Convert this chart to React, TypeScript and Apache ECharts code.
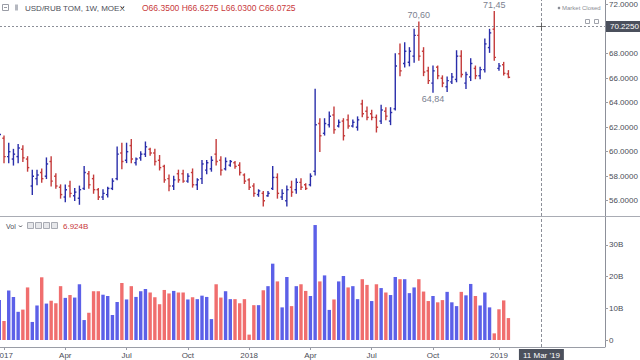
import React, { useEffect, useRef } from 'react';
import * as echarts from 'echarts';

// Weekly bars, first week starts 2016-12-26: [open, high, low, close]
const ohlc: number[][] = [
  [60.9, 61.7, 60.6, 61.4], [61.1, 61.3, 59.1, 59.6], [59.6, 60.7, 59.1, 60.0], [59.4, 60.2, 58.9, 59.8],
  [59.6, 60.6, 59.1, 60.3], [60.2, 60.5, 59.2, 59.5], [59.4, 59.6, 58.4, 58.7], [57.2, 58.5, 56.5, 58.0],
  [57.8, 58.5, 57.3, 58.1], [58.3, 58.6, 57.5, 57.8], [58.0, 59.5, 57.8, 59.0], [59.2, 59.6, 57.2, 57.6],
  [58.0, 58.2, 57.0, 57.2], [57.1, 57.3, 56.2, 56.5], [56.3, 57.3, 55.9, 56.9], [57.2, 57.6, 56.3, 56.6],
  [56.4, 57.0, 56.0, 56.7], [56.2, 57.2, 55.7, 56.9], [57.0, 58.8, 56.9, 58.3], [58.2, 58.4, 57.0, 57.3],
  [57.8, 58.1, 56.6, 56.9], [56.9, 57.0, 56.1, 56.3], [56.3, 56.9, 56.1, 56.6], [56.5, 57.1, 56.3, 57.0],
  [57.0, 57.8, 56.9, 57.6], [57.8, 60.4, 57.7, 59.8], [59.9, 60.7, 58.6, 59.2], [59.3, 60.7, 59.1, 60.0],
  [60.5, 61.0, 59.1, 59.4], [59.1, 59.5, 58.9, 59.4], [59.5, 60.0, 59.3, 59.8], [59.8, 60.8, 59.6, 60.4],
  [60.2, 60.3, 59.7, 59.9], [59.9, 60.2, 58.9, 59.2], [59.3, 59.7, 58.5, 58.7], [58.8, 58.9, 57.5, 57.7],
  [57.8, 58.1, 56.8, 57.2], [57.2, 58.0, 56.9, 57.7], [58.2, 58.5, 57.5, 57.7], [58.2, 58.5, 57.5, 57.6],
  [57.6, 58.2, 57.5, 58.0], [58.3, 58.6, 57.1, 57.3], [57.3, 57.8, 56.9, 57.7], [57.8, 59.3, 57.4, 59.0],
  [58.5, 59.3, 58.2, 59.1], [58.6, 59.6, 58.4, 59.3], [59.8, 61.0, 58.9, 59.2], [59.3, 59.6, 58.1, 58.5],
  [58.6, 59.5, 58.5, 59.2], [58.9, 59.3, 58.8, 59.2], [59.1, 59.2, 58.65, 58.8], [58.9, 59.1, 58.1, 58.3],
  [58.1, 58.2, 57.4, 57.6], [57.7, 57.8, 56.9, 57.1], [57.2, 57.4, 56.35, 56.6], [56.5, 56.9, 56.35, 56.8],
  [56.6, 56.75, 55.55, 56.0], [56.4, 56.75, 56.35, 56.6], [57.0, 58.8, 56.9, 57.9], [57.9, 58.2, 56.2, 56.6],
  [56.3, 56.9, 56.1, 56.6], [56.0, 57.2, 55.55, 56.9], [57.1, 57.6, 56.35, 56.7], [56.9, 57.8, 56.6, 57.5],
  [57.5, 57.8, 56.9, 57.1], [57.3, 57.4, 56.9, 57.0], [57.3, 58.2, 57.2, 58.0], [58.4, 65.1, 58.1, 62.2],
  [62.3, 62.7, 60.0, 61.3], [61.5, 62.7, 61.35, 62.3], [62.2, 63.25, 62.0, 62.9], [63.0, 63.65, 61.5, 61.8],
  [62.1, 62.6, 62.0, 62.4], [62.5, 62.7, 60.95, 61.3], [62.6, 63.0, 61.9, 62.1], [62.1, 62.6, 62.0, 62.4],
  [62.0, 62.85, 61.75, 62.6], [63.9, 64.2, 62.85, 63.1], [63.3, 63.65, 62.6, 62.8], [63.1, 63.4, 62.6, 62.8],
  [62.8, 63.0, 61.6, 62.0], [62.5, 63.8, 62.3, 63.4], [63.3, 63.6, 62.6, 62.9], [62.5, 63.6, 62.2, 63.2],
  [63.5, 68.0, 63.4, 67.0], [68.0, 68.8, 66.2, 66.6], [67.2, 68.9, 66.9, 68.2], [67.3, 68.5, 67.0, 68.2],
  [67.8, 70.0, 67.3, 69.5], [69.5, 70.6, 67.45, 67.8], [68.2, 68.5, 66.2, 66.5], [66.6, 66.9, 65.55, 65.8],
  [65.6, 67.0, 64.84, 66.6], [66.9, 67.0, 65.95, 66.2], [66.0, 66.2, 65.3, 65.6], [65.3, 66.1, 64.9, 65.8],
  [65.7, 66.4, 65.55, 66.1], [65.9, 68.25, 65.7, 67.8], [67.8, 68.25, 66.1, 66.3], [65.6, 66.5, 65.15, 66.3],
  [66.1, 67.6, 65.8, 67.2], [66.8, 67.0, 65.95, 66.2], [66.2, 66.9, 65.95, 66.7], [66.7, 69.2, 66.5, 68.8],
  [68.5, 70.0, 68.1, 69.7], [70.0, 71.45, 67.45, 67.7], [66.8, 67.2, 66.65, 67.0], [67.1, 67.3, 66.25, 66.4],
  [66.35, 66.6275, 66.03, 66.0725],
];

// Weekly volume, billions
const volumes: number[] = [
  12.6, 6.0, 15.6, 13.6, 8.9, 9.6, 16.6, 5.7, 10.9, 19.8, 11.5, 12.4, 11.6, 17.0, 13.3, 14.2,
  13.4, 17.6, 6.3, 8.6, 15.4, 15.4, 14.3, 13.9, 7.9, 12.0, 18.0, 12.8, 17.0, 13.6, 15.4, 16.1,
  15.0, 13.5, 11.3, 15.8, 14.7, 15.5, 15.0, 15.0, 12.8, 13.5, 12.9, 14.0, 13.6, 6.6, 17.6, 13.4,
  15.4, 12.9, 12.9, 11.6, 12.9, 1.7, 11.0, 11.0, 15.7, 17.0, 24.1, 18.5, 10.3, 19.9, 10.7, 17.0,
  17.6, 15.5, 13.9, 36.3, 18.5, 20.4, 9.5, 12.8, 18.5, 20.2, 16.6, 17.0, 12.9, 19.2, 17.4, 12.3,
  17.6, 16.4, 15.0, 14.2, 19.9, 19.2, 19.2, 14.8, 16.6, 19.2, 15.3, 12.3, 13.9, 11.9, 12.6, 15.2,
  11.9, 10.7, 15.2, 14.1, 17.7, 13.9, 10.9, 15.0, 10.3, 2.1, 9.7, 12.5, 6.924,
];

// Volume bar colour: 1 = up (blue), 0 = down (red)
const volUp: number[] = [
  1, 0, 1, 1, 1, 0, 0, 1, 1, 0, 1, 0, 0, 0, 1, 0, 1, 1, 1, 0, 0, 0, 1, 1, 1, 1, 0, 1, 0, 1, 1, 1,
  0, 0, 0, 0, 0, 1, 0, 0, 1, 0, 1, 1, 1, 1, 0, 0, 1, 1, 0, 0, 0, 0, 0, 1, 0, 1, 1, 0, 1, 1, 0, 1,
  0, 0, 1, 1, 0, 1, 1, 0, 1, 1, 0, 1, 1, 0, 0, 1, 0, 1, 0, 1, 1, 0, 1, 1, 1, 0, 0, 0, 1, 0, 0, 1,
  1, 1, 0, 1, 1, 0, 1, 1, 1, 0, 0, 0, 0,
];

const priceTicks = [56, 58, 60, 62, 64, 66, 68, 72]; // 70 sits under the crosshair price box
const volTicks = [0, 10, 20, 30];
const timeTickIdx = [1, 14, 27, 40, 53, 66, 79, 92, 106];
const timeTickLabels = ['2017', 'Apr', 'Jul', 'Oct', '2018', 'Apr', 'Jul', 'Oct', '2019'];
const hiLoMarks = [
  { idx: 89, value: 70.6, pos: 'top' },
  { idx: 92, value: 64.84, pos: 'bottom' },
  { idx: 105, value: 71.45, pos: 'top' },
];
const cursorIdx = 115;
const cursorDate = "11 Mar '19";
const cursorPrice = 70.225;
const title = 'USD/RUB TOM, 1W, MOEX';

const BAR_BLUE = '#2a2eaa';
const BAR_RED = '#c43b3b';
const VOL_BLUE = '#5c60e8';
const VOL_RED = '#f06e6e';
const TXT = '#4a4d57';
const FONT = '"Liberation Sans", Arial, sans-serif';

export default function App() {
  const ref = useRef<HTMLDivElement>(null);
  useEffect(() => {
    const chart = echarts.init(ref.current!, undefined, { renderer: 'svg' });
    const last = ohlc[ohlc.length - 1];
    const lastVol = volumes[volumes.length - 1];
    const xMin = 0.15;
    const xMax = 128.49;
    const pxPer = 12.25;
    const pMax = 72 + 4.7 / pxPer;
    const pMin = 72 - 211.3 / pxPer;
    const vPer = 3.167;
    const vMax = 123 / vPer;
    const vMin = -7 / vPer;

    const ohlcData = ohlc.map((d, i) => [i, d[0], d[1], d[2], d[3]]);
    const volData = volumes.map((v, i) => ({
      value: [i, v],
      itemStyle: { color: volUp[i] ? VOL_BLUE : VOL_RED },
    }));

    const dash = { color: '#8c8f98', width: 1, type: [3, 2] as any };

    const option: any = {
      animation: false,
      backgroundColor: '#ffffff',
      textStyle: { fontFamily: FONT },
      grid: [
        { left: 0, top: 0, width: 605, height: 216, outerBoundsMode: 'none', containLabel: false },
        { left: 0, top: 217, width: 605, height: 130, outerBoundsMode: 'none', containLabel: false },
      ],
      xAxis: [
        {
          type: 'value', gridIndex: 0, min: xMin, max: xMax,
          axisLine: { show: false }, axisTick: { show: false }, axisLabel: { show: false }, splitLine: { show: false },
        },
        {
          type: 'value', gridIndex: 1, min: xMin, max: xMax,
          axisLine: { show: true, onZero: false, lineStyle: { color: '#9a9da6', width: 1 } },
          axisTick: { show: true, customValues: timeTickIdx, length: 3, lineStyle: { color: '#9a9da6' } },
          axisLabel: {
            show: true, customValues: timeTickIdx, margin: 4, fontSize: 8, color: TXT, fontFamily: FONT,
            alignMinLabel: 'center', alignMaxLabel: 'center', hideOverlap: false,
            formatter: (v: number) => {
              const k = timeTickIdx.indexOf(Math.round(v));
              return k >= 0 ? timeTickLabels[k] : '';
            },
          },
          splitLine: { show: false },
        },
      ],
      yAxis: [
        {
          type: 'value', gridIndex: 0, position: 'right', min: pMin, max: pMax,
          axisLine: { show: false },
          axisTick: { show: true, customValues: priceTicks, length: 3, lineStyle: { color: '#9a9da6' } },
          axisLabel: {
            customValues: priceTicks, margin: 4, fontSize: 8, color: TXT, fontFamily: FONT,
            formatter: (v: number) => v.toFixed(4),
          },
          splitLine: { show: false },
        },
        {
          type: 'value', gridIndex: 1, position: 'right', min: vMin, max: vMax,
          axisLine: { show: false },
          axisTick: { show: true, customValues: volTicks, length: 3, lineStyle: { color: '#9a9da6' } },
          axisLabel: {
            customValues: volTicks, margin: 4, fontSize: 8, color: TXT, fontFamily: FONT,
            formatter: (v: number) => (v === 0 ? '0' : v + 'B'),
          },
          splitLine: { show: false },
        },
      ],
      series: [
        {
          type: 'custom',
          xAxisIndex: 0, yAxisIndex: 0,
          data: ohlcData,
          encode: { x: 0, y: [1, 2, 3, 4] },
          clip: true,
          renderItem: (params: any, api: any) => {
            const x = api.value(0);
            const o = api.coord([x, api.value(1)]);
            const h = api.coord([x, api.value(2)]);
            const l = api.coord([x, api.value(3)]);
            const c = api.coord([x, api.value(4)]);
            const up = api.value(4) >= api.value(1);
            const style = { stroke: up ? BAR_BLUE : BAR_RED, lineWidth: 1.4 };
            const t = 1.7;
            return {
              type: 'group',
              children: [
                { type: 'line', shape: { x1: h[0], y1: h[1] - 0.4, x2: l[0], y2: l[1] + 0.4 }, style },
                { type: 'line', shape: { x1: o[0] - t, y1: o[1], x2: o[0], y2: o[1] }, style },
                { type: 'line', shape: { x1: c[0], y1: c[1], x2: c[0] + t, y2: c[1] }, style },
              ],
            };
          },
          markLine: {
            silent: true, symbol: ['none', 'none'], animation: false,
            data: [
              {
                yAxis: cursorPrice, lineStyle: { ...dash, type: [2, 2] },
                label: {
                  show: true, position: 'end', distance: 1, formatter: cursorPrice.toFixed(4),
                  backgroundColor: '#4b505c', color: '#ffffff', fontSize: 8, padding: [2, 4, 1, 4], fontFamily: FONT,
                },
              },
              { xAxis: cursorIdx, lineStyle: dash, label: { show: false } },
              {
                yAxis: last[3], lineStyle: { opacity: 0 },
                label: {
                  show: true, position: 'end', distance: 1, formatter: last[3].toFixed(4),
                  backgroundColor: '#f02a2a', color: '#ffffff', fontSize: 8, padding: [2, 4, 1, 4], fontFamily: FONT,
                },
              },
            ],
          },
          markPoint: {
            silent: true, animation: false,
            data: [
              ...hiLoMarks.map((m) => ({
                coord: [m.idx, m.value], value: m.value, symbol: 'circle', symbolSize: 0,
                label: {
                  show: true, position: m.pos, distance: 2, color: '#7b8190', fontSize: 9, fontFamily: FONT,
                  formatter: m.value.toFixed(2).replace('.', ','),
                },
              })),
              {
                coord: [cursorIdx, cursorPrice], symbol: 'path://M0 4.5h10v1h-10z M4.5 0h1v10h-1z', symbolSize: 8,
                itemStyle: { color: '#555' }, label: { show: false },
              },
            ],
          },
        },
        {
          type: 'bar',
          xAxisIndex: 1, yAxisIndex: 1,
          data: volData,
          barWidth: 3.4,
          markLine: {
            silent: true, symbol: ['none', 'none'], animation: false,
            data: [
              {
                xAxis: cursorIdx, lineStyle: dash,
                label: {
                  show: true, position: 'start', distance: 2, formatter: cursorDate,
                  backgroundColor: '#4b505c', color: '#ffffff', fontSize: 8, padding: [2, 4, 2, 4], fontFamily: FONT,
                },
              },
            ],
          },
        },
      ],
      graphic: [
        { type: 'line', shape: { x1: 605.5, y1: 0, x2: 605.5, y2: 347 }, style: { stroke: '#8d9099', lineWidth: 1 }, silent: true },
        { type: 'line', shape: { x1: 0, y1: 216.5, x2: 640, y2: 216.5 }, style: { stroke: '#a9acb4', lineWidth: 1 }, silent: true },
        // header icons
        { type: 'rect', shape: { x: 2.5, y: 4.5, width: 6, height: 6 }, style: { stroke: '#9a9da6', fill: 'none', lineWidth: 1 }, silent: true },
        { type: 'line', shape: { x1: 4, y1: 7.5, x2: 7, y2: 7.5 }, style: { stroke: '#9a9da6', lineWidth: 1 }, silent: true },
        { type: 'rect', shape: { x: 15, y: 4.5, width: 3, height: 6 }, style: { fill: '#b5b8c0' }, silent: true },
        { type: 'text', x: 25, y: 8, style: { text: title, font: '8px ' + FONT, fill: '#4b4e58', verticalAlign: 'middle' }, silent: true },
        { type: 'polyline', shape: { points: [[121, 7], [122.5, 8.5], [124, 7]] }, style: { stroke: '#4b4e58', lineWidth: 1, fill: 'none' }, silent: true },
        {
          type: 'text', x: 142, y: 8,
          style: {
            text: 'O' + last[0].toFixed(4) + ' H' + last[1].toFixed(4) + ' L' + last[2].toFixed(4) + ' C' + last[3].toFixed(4),
            font: '8.5px ' + FONT, fill: '#c8393b', verticalAlign: 'middle',
          },
          silent: true,
        },
        // market status
        { type: 'circle', shape: { cx: 559, cy: 8, r: 1.3 }, style: { fill: '#8a8d96' }, silent: true },
        { type: 'text', x: 562, y: 8, style: { text: 'Market Closed', font: '6px ' + FONT, fill: '#8a8d96', verticalAlign: 'middle' }, silent: true },
        { type: 'rect', shape: { x: 585.5, y: 19.5, width: 4, height: 4 }, style: { stroke: '#a0a3ab', fill: 'none', lineWidth: 1 }, silent: true },
        { type: 'rect', shape: { x: 594.5, y: 19.5, width: 4, height: 4 }, style: { stroke: '#a0a3ab', fill: 'none', lineWidth: 1 }, silent: true },
        // volume header
        { type: 'text', x: 6, y: 226, style: { text: 'Vol', font: '7px ' + FONT, fill: '#4b4e58', verticalAlign: 'middle' }, silent: true },
        { type: 'polyline', shape: { points: [[19, 225.5], [20.5, 227], [22, 225.5]] }, style: { stroke: '#4b4e58', lineWidth: 1, fill: 'none' }, silent: true },
        ...[27.5, 35.5, 43.5, 51.5].map((bx) => ({
          type: 'rect', shape: { x: bx, y: 222.5, width: 6, height: 6 },
          style: { stroke: '#a8abb3', fill: '#e6e7ea', lineWidth: 1 }, silent: true,
        })),
        { type: 'text', x: 63, y: 226, style: { text: lastVol.toFixed(3) + 'B', font: '8px ' + FONT, fill: '#c8393b', verticalAlign: 'middle' }, silent: true },
      ],
    };
    chart.setOption(option);
    return () => chart.dispose();
  }, []);
  return (
    <div
      ref={ref}
      style={{ position: 'fixed', left: 0, top: 0, width: 640, height: 360, background: '#ffffff' }}
    />
  );
}
